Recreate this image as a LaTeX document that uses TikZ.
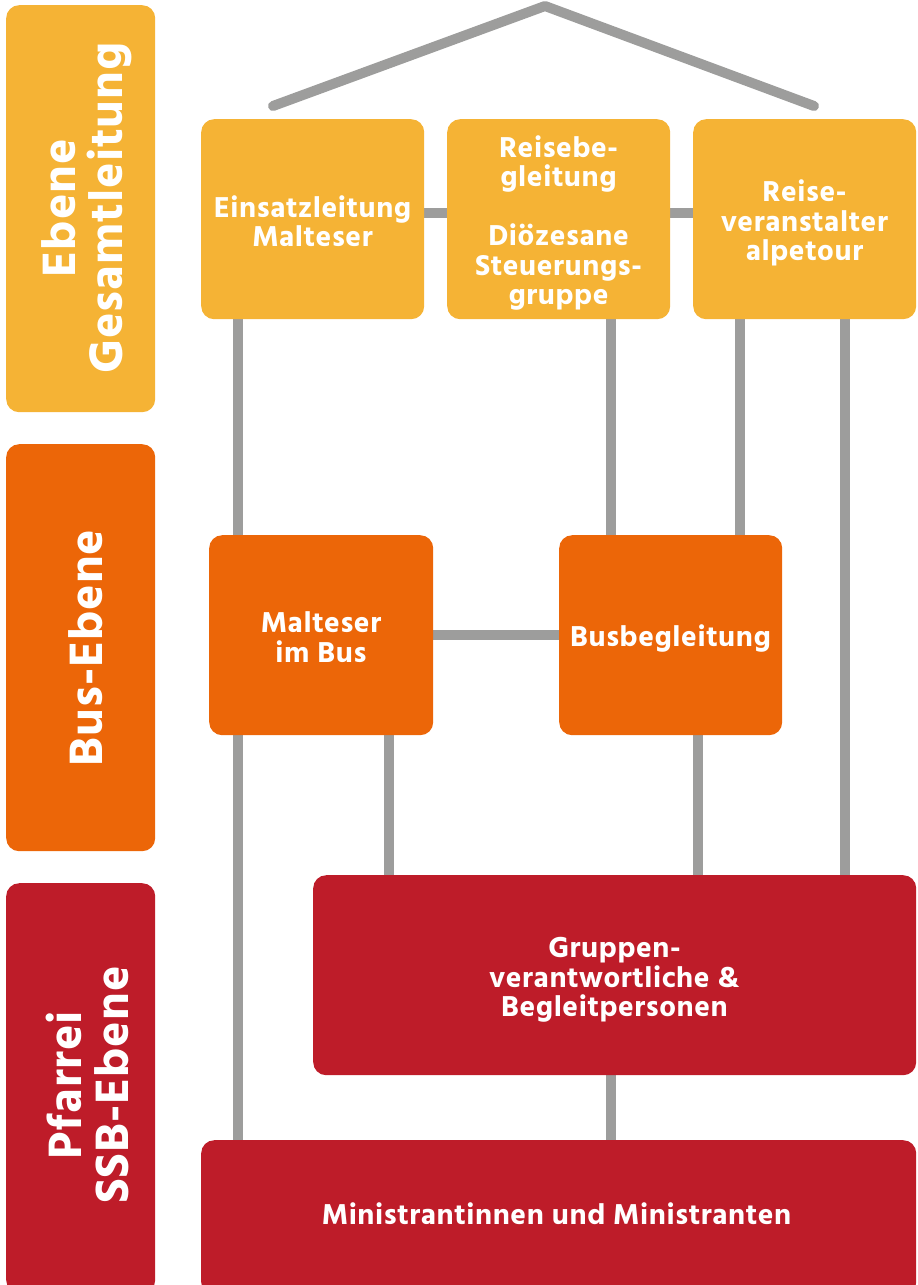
\documentclass[tikz,border=0pt]{standalone}
\usepackage{fontspec}
\setmainfont{Hind Siliguri}[BoldFont={Hind Siliguri Bold}, LetterSpace=2]
\usetikzlibrary{positioning}
\definecolor{cyel}{HTML}{F5B335}
\definecolor{cora}{HTML}{EC6608}
\definecolor{cred}{HTML}{BE1C29}
\definecolor{cgray}{HTML}{9D9D9C}
\pgfdeclarelayer{bg}
\pgfsetlayers{bg,main}
\tikzset{
  box/.style={fill=#1, rounded corners=13pt, anchor=north west, inner sep=0pt},
  boxtext/.style={text=white, align=center, font=\fontsize{29.5}{29.5}\selectfont\bfseries},
  lab/.style={fill=#1, rounded corners=13pt, anchor=north west, inner sep=0pt,
    minimum width=149pt},
  labtext/.style={text=white, align=center, rotate=90,
    font=\fontsize{48}{47}\selectfont\bfseries},
  conn/.style={draw=cgray, line width=10pt},
  roof/.style={draw=cgray, line width=10pt, line cap=round, line join=round},
}
\begin{document}
\begin{tikzpicture}[x=1pt,y=-1pt]
\useasboundingbox (0,0) rectangle (918,1285);
\begin{scope}
\clip (0,0) rectangle (918,1285);
% left level labels
\node[lab=cyel, minimum height=407pt] (L1) at (6,5) {};
\node[lab=cora, minimum height=407pt] (L2) at (6,444) {};
\node[lab=cred, minimum height=410pt] (L3) at (6,883) {};
\node[labtext] (T1) at (87,208) {Ebene\\Gesamtleitung};
\node[labtext] (T2) at (86,648) {Bus-Ebene};
\node[labtext] (T3) at (87,1085) {Pfarrei\\SSB-Ebene};
% top level
\node[box=cyel, minimum width=223pt, minimum height=200pt] (A) at (201,119) {};
\node[box=cyel, minimum width=223pt, minimum height=200pt] (B) at (447,119) {};
\node[box=cyel, minimum width=223pt, minimum height=200pt] (C) at (693,119) {};
\node[boxtext] (Atx) at (312.5,221) {Einsatzleitung\\Malteser};
\node[boxtext] (Btx) at (558.5,223) {Reisebe-\\gleitung\\[29.5pt]Diözesane\\Steuerungs-\\gruppe};
\node[boxtext] (Ctx) at (804.5,223) {Reise-\\veranstalter\\alpetour};
% bus level
\node[box=cora, minimum width=224pt, minimum height=200pt] (M) at (209,535) {};
\node[box=cora, minimum width=223pt, minimum height=200pt] (S) at (559,535) {};
\node[boxtext] (Mtx) at (321,637) {Malteser\\im Bus};
\node[boxtext] (Stx) at (670.5,638) {Busbegleitung};
% parish level
\node[box=cred, minimum width=603pt, minimum height=200pt] (G) at (313,875) {};
\node[boxtext] (Gtx) at (614.5,980) {Gruppen-\\verantwortliche \&\\Begleitpersonen};
\node[box=cred, minimum width=715pt, minimum height=155pt] (N) at (201,1140) {};
\node[boxtext] (Ntx) at (556.5,1214) {Ministrantinnen und Ministranten};
% helper coordinates
\coordinate (x238) at (238,0);
\coordinate (x389) at (389,0);
\coordinate (x611) at (611,0);
\coordinate (x698) at (698,0);
\coordinate (x740) at (740,0);
\coordinate (x845) at (845,0);
\coordinate (y213) at (0,213);
\coordinate (y635) at (0,635);
\coordinate (r1) at (273,106);
\coordinate (r2) at (545,6);
\coordinate (r3) at (814,106);
\begin{pgfonlayer}{bg}
\draw[roof] (r1) -- (r2) -- (r3);
\draw[conn] (A.east |- y213) -- (B.west |- y213);
\draw[conn] (B.east |- y213) -- (C.west |- y213);
\draw[conn] (A.south -| x238) -- (N.north -| x238);
\draw[conn] (B.south -| x611) -- (S.north -| x611);
\draw[conn] (C.south -| x740) -- (S.north -| x740);
\draw[conn] (C.south -| x845) -- (G.north -| x845);
\draw[conn] (M.east |- y635) -- (S.west |- y635);
\draw[conn] (M.south -| x389) -- (G.north -| x389);
\draw[conn] (S.south -| x698) -- (G.north -| x698);
\draw[conn] (G.south -| x611) -- (N.north -| x611);
\end{pgfonlayer}
\end{scope}
\end{tikzpicture}
\end{document}
